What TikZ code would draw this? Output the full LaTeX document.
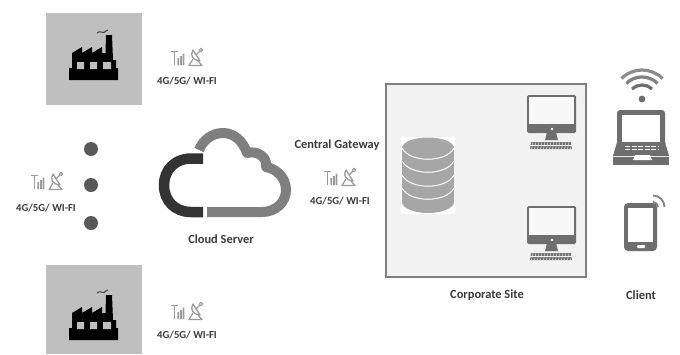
\documentclass[tikz,border=0pt]{standalone}
\usepackage{fontspec}
\setmainfont{Carlito}
\definecolor{txt}{HTML}{3A3A3A}
\definecolor{midg}{HTML}{7F7F7F}
\definecolor{icong}{HTML}{6E6E6E}
\definecolor{lightg}{HTML}{A6A6A6}
\definecolor{siggr}{HTML}{9A9A9A}
\tikzset{
  lab/.style={font=\bfseries\fontsize{12.4}{14}\selectfont,text=txt,inner sep=0pt},
  netlab/.style={font=\bfseries\fontsize{10.7}{12}\selectfont,text=txt,inner sep=0pt},
  sitebox/.style={draw=midg,line width=1.6pt,fill=black!5},
  factbox/.style={fill=black!25,draw=none},
  dotmark/.style={circle,fill=black!65,minimum size=14pt,inner sep=0pt},
  pics/sigicon/.style={code={
    \begin{scope}[draw=siggr,fill=siggr,line width=1.2pt]
      \draw (-16,-5.5) -- (-9,-5.5) (-12.5,-5.5) -- (-12.5,8);
      \fill (-9.6,8) rectangle (-7.8,1) (-7,8) rectangle (-5.2,-1) (-4.4,8) rectangle (-2.6,-3.5);
      \draw[line width=1.3pt,line join=round] (6,-7) .. controls (3,-2) and (5,3) .. (13,4) -- cycle;
      \draw[line join=round] (6,2) -- (2,8.5) -- (15,8.5) -- (11,4);
      \draw (9,-2) -- (13,-6);
      \draw[line width=1pt] (14,-7) circle (1.7);
    \end{scope}}},
  pics/factoryicon/.style={code={
    \fill[black] (0,0) -- (0,-12) -- (3,-12) -- (3,-27) -- (13,-33) -- (13,-27) -- (23,-33) -- (23,-27) -- (33,-33) -- (33,-27) -- (36.5,-27) -- (37,-45) -- (43,-45) -- (44,-20) -- (47,-20) -- (47,-12) -- (49,-12) -- (49,0) -- cycle;
    \fill[black!25] (8,-11) rectangle (15,-18) (21,-11) rectangle (28,-18) (34,-11) rectangle (42,-18);
    \draw[black!75,line width=1pt] (28,-47) .. controls (31,-50) and (33,-46.5) .. (35,-47.5) .. controls (37,-48.5) and (37,-50) .. (39,-50);}},
  pics/monitoricon/.style={code={
    \begin{scope}[fill=icong]
      \fill[rounded corners=1.5pt] (1,0) rectangle (50,38);
      \fill[black!3] (3,2) rectangle (47.5,29);
      \fill[white] (26,34) circle (1.3);
      \fill (21,37) -- (30,37) -- (32,45) -- (19,45) -- cycle;
      \fill[black!55] (5,47) -- (45,47) -- (46,54) -- (4,54) -- cycle;
      \foreach \kx in {7,10,...,46}{\draw[black!5,line width=.4pt] (\kx,47) -- ({\kx-1.5},54);}
      \draw[black!5,line width=.4pt] (4,50.5) -- (46,50.5);
    \end{scope}}}
}
\begin{document}
\begin{tikzpicture}[x=1pt,y=-1pt]
\useasboundingbox (0,0) rectangle (680,354);
\fill[white] (0,0) rectangle (680,354);
% factories
\path[factbox] (46,13) rectangle (142,105);
\pic at (69,80) {factoryicon};
\path[factbox] (46,265) rectangle (142,354);
\pic at (69,340) {factoryicon};
% signals
\pic at (187,57) {sigicon};
\pic at (47,181) {sigicon};
\pic at (340,177) {sigicon};
\pic at (187,311) {sigicon};
\node[netlab] (net1) at (187,81) {4G/5G/ WI-FI};
\node[netlab] (net2) at (46,208) {4G/5G/ WI-FI};
\node[netlab] (net3) at (340,201) {4G/5G/ WI-FI};
\node[netlab] (net4) at (187,335) {4G/5G/ WI-FI};
% dots
\node[dotmark] (d1) at (91,149) {};
\node[dotmark] (d2) at (91,185) {};
\node[dotmark] (d3) at (91,223) {};
% cloud
\draw[black!80,line width=10.5pt] (203,158.5) -- (191,158.5) .. controls (175,158.5) and (164,170) .. (164,185) .. controls (164,201) and (175,212) .. (191,212) -- (203,212);
\draw[midg,line width=10pt,line join=round] (207,212) -- (262,212) .. controls (276,212) and (286,202) .. (286,190) .. controls (286,178) and (277,169) .. (266,167)
  .. controls (268,158) and (258,150) .. (247,153) .. controls (243,141) and (234,133) .. (223,133) .. controls (212,133) and (203,140) .. (199,150);
\node[lab] (cloud) at (221,239) {Cloud Server};
\node[lab] (gate) at (337,145) {Central Gateway};
% corporate site
\path[sitebox] (386,84) rectangle (586,277);
\fill[white] (401,137) rectangle (455,214);
\fill[lightg] (402,148) -- (402,202) arc[x radius=26,y radius=11,start angle=180,end angle=0] -- (454,148) -- cycle;
\fill[lightg] (428,148) ellipse[x radius=26,y radius=10.5];
\foreach \by in {148,161,175,188}{\draw[white,line width=1pt] (402,\by) .. controls (410,{\by+15}) and (446,{\by+15}) .. (454,\by);}
\pic at (526,95) {monitoricon};
\pic at (526,206) {monitoricon};
\node[lab] (site) at (487,295) {Corporate Site};
% laptop and wifi
\fill[icong] (642,99) circle (3.4);
\draw[icong,line width=3.2pt] (632.1,89.1) arc[start angle=-135,end angle=-45,radius=14];
\draw[black!50,line width=3.2pt] (626.4,83.4) arc[start angle=-135,end angle=-45,radius=22];
\draw[black!45,line width=3.2pt] (621.5,78.5) arc[start angle=-135,end angle=-45,radius=29];
\fill[icong,rounded corners=3pt] (617,110) rectangle (665,150);
\fill[white] (622,115) rectangle (660,142);
\fill[icong] (617,142) -- (665,142) -- (669,156) -- (613,156) -- cycle;
\fill[icong] (613,157) rectangle (669,165);
\fill[white] (633,160) -- (635,155) -- (650,155) -- (652,160) -- cycle;
\foreach \ky in {146,149.5}{\draw[white,line width=1pt,dash pattern=on 5pt off 1.5pt] (625,\ky) -- (658,\ky);}
% tablet
\fill[icong,rounded corners=4pt] (624,203) rectangle (657,251);
\fill[white] (628,208) rectangle (653,242);
\fill[white,rounded corners=1pt] (637,245) rectangle (645,248);
\draw[black!50,line width=1.8pt] (653,202) arc[start angle=-90,end angle=0,radius=5];
\draw[black!50,line width=1.8pt] (653,195.5) arc[start angle=-90,end angle=0,radius=11.5];
\node[lab] (client) at (641,295) {Client};
\end{tikzpicture}
\end{document}
